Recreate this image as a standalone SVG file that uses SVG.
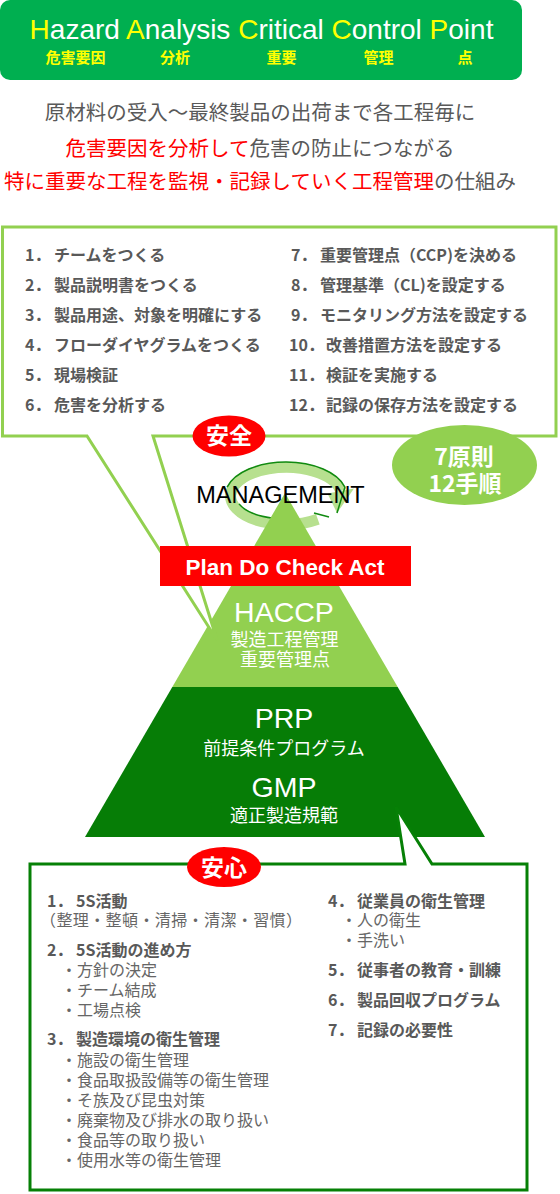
<svg xmlns="http://www.w3.org/2000/svg" width="560" height="1194" viewBox="0 0 560 1194">
<style>
.jp{font-family:'Noto Sans CJK JP',sans-serif}
.en{font-family:'Liberation Sans',Arial,sans-serif}
.y{fill:#FFFF00}
.li{font-family:'Noto Sans CJK JP',sans-serif;font-size:16px;font-weight:bold;fill:#595959}
.sub{font-family:'Noto Sans CJK JP',sans-serif;font-size:16px;fill:#666}
.b{font-weight:bold;fill:#595959}
.intro{font-family:'Noto Sans CJK JP',sans-serif;font-size:20.5px;fill:#595959}
.red{fill:#FF0000}
.badge{font-family:'Noto Sans CJK JP',sans-serif;font-weight:bold;fill:#fff}
.ptxt{font-family:'Liberation Sans',Arial,sans-serif;font-size:28.5px;fill:#fff}
.pjp{font-family:'Noto Sans CJK JP',sans-serif;font-size:18px;fill:#fff}
</style>

<g id="header">
<rect x="0" y="0" width="522" height="80" rx="10" fill="#00AF50"/>
<text class="en" x="261.5" y="39" font-size="28" fill="#fff" text-anchor="middle"><tspan class="y">H</tspan>azard <tspan class="y">A</tspan>nalysis <tspan class="y">C</tspan>ritical <tspan class="y">C</tspan>ontrol <tspan class="y">P</tspan>oint</text>
<g class="jp" font-size="15" font-weight="bold" fill="#FFFF00" text-anchor="middle">
<text x="75.5" y="63">危害要因</text>
<text x="175" y="63">分析</text>
<text x="281.5" y="63">重要</text>
<text x="378.5" y="63">管理</text>
<text x="465" y="63">点</text>
</g>
</g>

<g id="intro" text-anchor="middle">
<text class="intro" x="260" y="120">原材料の受入～最終製品の出荷まで各工程毎に</text>
<text class="intro" x="260" y="156"><tspan class="red">危害要因を分析して</tspan>危害の防止につながる</text>
<text class="intro" x="260" y="188.5"><tspan class="red">特に重要な工程を監視・記録していく工程管理</tspan>の仕組み</text>
</g>

<g id="management-cycle">
<path d="M317.8 519.3 A55.5 28.5 0 1 1 340.7 491" fill="none" stroke="#B7E08F" stroke-width="11"/>
<polygon points="354,488.5 327.5,493.5 337,513" fill="#B7E08F"/>
<path d="M227.1 487.2 A61 34 0 0 1 344.9 487.2 L337 513" fill="none" stroke="#118A11" stroke-width="1.5"/>
<path d="M239 503.9 A50 23 0 0 0 273.1 518.2" fill="none" stroke="#118A11" stroke-width="1.5"/>
<path d="M314 513 L329 517" fill="none" stroke="#118A11" stroke-width="1.5"/>
</g>

<g id="pyramid-haccp">
<polygon points="285,493 397.7,687 172.3,687" fill="#92D050"/>
<text class="ptxt" x="284" y="622" text-anchor="middle">HACCP</text>
<text class="pjp" text-anchor="middle"><tspan x="284.5" y="646">製造工程管理</tspan><tspan x="285" y="666">重要管理点</tspan></text>
</g>

<g id="pyramid-prp">
<polygon points="172.3,687 397.7,687 485,837 85,837" fill="#067D06"/>
<text class="ptxt" x="284" y="728" text-anchor="middle">PRP</text>
<text class="pjp" x="284" y="755" text-anchor="middle">前提条件プログラム</text>
<text class="ptxt" x="284" y="797" text-anchor="middle">GMP</text>
<text class="pjp" x="284" y="822" text-anchor="middle">適正製造規範</text>
</g>

<g id="haccp-steps">
<path d="M2.5 227 H556 V436 H153 L217 640 L87 436 H2.5 Z" fill="#fff" stroke="#92D050" stroke-width="3" stroke-linejoin="miter"/>
<text class="li"><tspan x="25" y="261">1．</tspan><tspan x="54">チームをつくる</tspan><tspan x="25" y="291">2．</tspan><tspan x="54">製品説明書をつくる</tspan><tspan x="25" y="321">3．</tspan><tspan x="54">製品用途、対象を明確にする</tspan><tspan x="25" y="351">4．</tspan><tspan x="54">フローダイヤグラムをつくる</tspan><tspan x="25" y="381">5．</tspan><tspan x="54">現場検証</tspan><tspan x="25" y="411">6．</tspan><tspan x="54">危害を分析する</tspan></text>
<text class="li"><tspan x="291" y="261">7．</tspan><tspan x="320">重要管理点（CCP)を決める</tspan><tspan x="291" y="291">8．</tspan><tspan x="320">管理基準（CL)を設定する</tspan><tspan x="291" y="321">9．</tspan><tspan x="320">モニタリング方法を設定する</tspan><tspan x="289" y="351">10．</tspan><tspan x="326">改善措置方法を設定する</tspan><tspan x="289" y="381">11．</tspan><tspan x="326">検証を実施する</tspan><tspan x="289" y="411">12．</tspan><tspan x="326">記録の保存方法を設定する</tspan></text>
</g>

<g id="prp-items">
<path d="M30 864 H405 L396 807 L432 864 H527 V1190 H30 Z" fill="#fff" stroke="#068006" stroke-width="3"/>
<text class="sub"><tspan class="b" x="47" y="907">1．</tspan><tspan class="b" x="76">5S活動</tspan><tspan x="40" y="926" textLength="262" lengthAdjust="spacing">（整理・整頓・清掃・清潔・習慣）</tspan><tspan class="b" x="47" y="956">2．</tspan><tspan class="b" x="76">5S活動の進め方</tspan><tspan x="61" y="976">・方針の決定</tspan><tspan x="61" y="996">・チーム結成</tspan><tspan x="61" y="1016">・工場点検</tspan><tspan class="b" x="47" y="1045">3．</tspan><tspan class="b" x="76">製造環境の衛生管理</tspan><tspan x="61" y="1066">・施設の衛生管理</tspan><tspan x="61" y="1086">・食品取扱設備等の衛生管理</tspan><tspan x="61" y="1106">・そ族及び昆虫対策</tspan><tspan x="61" y="1126">・廃棄物及び排水の取り扱い</tspan><tspan x="61" y="1146">・食品等の取り扱い</tspan><tspan x="61" y="1166">・使用水等の衛生管理</tspan></text>
<text class="sub"><tspan class="b" x="328" y="907">4．</tspan><tspan class="b" x="357">従業員の衛生管理</tspan><tspan x="341" y="926">・人の衛生</tspan><tspan x="341" y="946">・手洗い</tspan><tspan class="b" x="328" y="976">5．</tspan><tspan class="b" x="357">従事者の教育・訓練</tspan><tspan class="b" x="328" y="1006">6．</tspan><tspan class="b" x="357">製品回収プログラム</tspan><tspan class="b" x="328" y="1036">7．</tspan><tspan class="b" x="357">記録の必要性</tspan></text>
</g>

<g id="pdca">
<rect x="160" y="546" width="251" height="40" fill="#FF0000"/>
<text class="en" x="285" y="575" font-size="22.5" font-weight="bold" fill="#fff" text-anchor="middle">Plan Do Check Act</text>
</g>

<g id="management-label">
<text class="en" x="280.5" y="503" font-size="23.5" fill="#000" text-anchor="middle">MANAGEMENT</text>
</g>

<g id="badge-anzen">
<ellipse cx="229" cy="436" rx="36.5" ry="20.5" fill="#FF0000"/>
<text class="badge" x="229" y="444" font-size="23" text-anchor="middle">安全</text>
</g>

<g id="badge-principles">
<ellipse cx="464.5" cy="465" rx="72.5" ry="40" fill="#92D050"/>
<text class="badge" font-size="23" text-anchor="middle"><tspan x="464" y="465">7原則</tspan><tspan x="465" y="491.5">12手順</tspan></text>
</g>

<g id="badge-anshin">
<ellipse cx="224" cy="867" rx="37" ry="20" fill="#FF0000"/>
<text class="badge" x="224" y="875.5" font-size="23" text-anchor="middle">安心</text>
</g>
</svg>
